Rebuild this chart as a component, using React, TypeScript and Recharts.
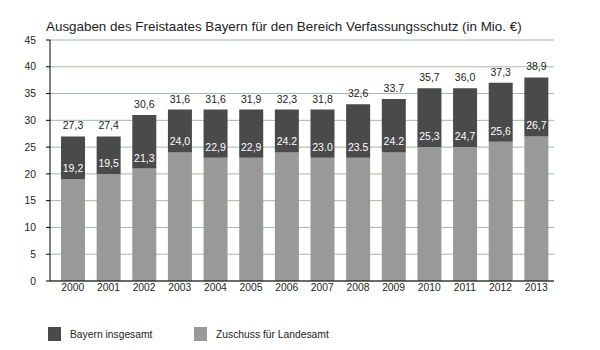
import { BarChart, Bar, XAxis, YAxis, CartesianGrid, LabelList } from "recharts";

const years = ["2000", "2001", "2002", "2003", "2004", "2005", "2006", "2007", "2008", "2009", "2010", "2011", "2012", "2013"];

// bar heights as drawn in the picture (rounded)
const totalHeights = [27, 27, 31, 32, 32, 32, 32, 32, 33, 34, 36, 36, 37, 38];
const landHeights = [19, 20, 21, 24, 23, 23, 24, 23, 23, 24, 25, 25, 26, 27];

// printed labels, kept as in the picture
const totalLabels = ["27,3", "27,4", "30,6", "31,6", "31,6", "31,9", "32,3", "31,8", "32,6", "33.7", "35,7", "36,0", "37,3", "38,9"];
const landLabels = ["19,2", "19,5", "21,3", "24,0", "22,9", "22,9", "24.2", "23.0", "23.5", "24.2", "25,3", "24,7", "25,6", "26,7"];

const yTicks = [0, 5, 10, 15, 20, 25, 30, 35, 40, 45];

const DARK = "#4a4a4a";
const LIGHT = "#999999";
const FONT = '"Liberation Sans", Arial, sans-serif';

const data = years.map((year, i) => ({
  year,
  land: landHeights[i],
  rest: totalHeights[i] - landHeights[i],
  landLabel: landLabels[i],
  totalLabel: totalLabels[i],
}));

const legendItems = [
  { name: "Bayern insgesamt", color: DARK, left: 48 },
  { name: "Zuschuss für Landesamt", color: LIGHT, left: 194 },
];

export default function App() {
  return (
    <div style={{ position: "absolute", left: 0, top: 0, width: 600, height: 350, background: "#fff", fontFamily: FONT }}>
      <div style={{ position: "absolute", left: 46, top: 19, fontSize: 13.4, color: "#222", whiteSpace: "nowrap" }}>
        Ausgaben des Freistaates Bayern für den Bereich Verfassungsschutz (in Mio. €)
      </div>
      <BarChart width={600} height={350} data={data} margin={{ top: 40, right: 46, bottom: 49, left: 0 }} barCategoryGap={12}>
        <CartesianGrid vertical={false} stroke="#a3b8a8" />
        <XAxis
          dataKey="year"
          axisLine={{ stroke: "#000" }}
          tickLine={false}
          tickSize={0}
          tickMargin={3}
          height={20}
          interval={0}
          padding={{ left: 5, right: 0 }}
          tick={{ fontSize: 10.3, fill: "#222", fontFamily: FONT }}
        />
        <YAxis
          domain={[0, 45]}
          ticks={yTicks}
          width={50}
          axisLine={{ stroke: "#000" }}
          tickLine={{ stroke: "#000" }}
          tickSize={4}
          tickMargin={10}
          tick={{ fontSize: 10.3, fill: "#222", fontFamily: FONT }}
        />
        <Bar dataKey="land" stackId="a" fill={LIGHT} barSize={24} isAnimationActive={false}>
          <LabelList dataKey="landLabel" position="top" offset={7} fill="#fff" fontSize={10.5} fontFamily={FONT} />
        </Bar>
        <Bar dataKey="rest" stackId="a" fill={DARK} barSize={24} isAnimationActive={false}>
          <LabelList dataKey="totalLabel" position="top" offset={7} fill="#222" fontSize={10.5} fontFamily={FONT} />
        </Bar>
      </BarChart>
      {legendItems.map((item) => (
        <div key={item.name} style={{ position: "absolute", left: item.left, top: 327, display: "flex", alignItems: "center", fontSize: 10.3, color: "#222" }}>
          <div style={{ width: 13, height: 14, background: item.color, marginRight: 9 }} />
          <span>{item.name}</span>
        </div>
      ))}
    </div>
  );
}
